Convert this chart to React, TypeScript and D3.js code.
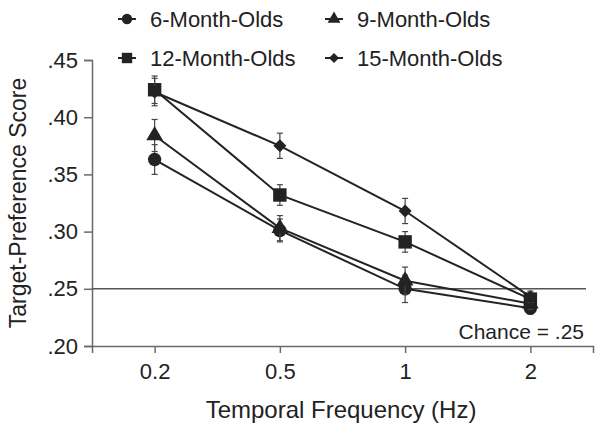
import React, { useEffect, useRef } from 'react';
import * as d3 from 'd3';

const frequencies = ['0.2', '0.5', '1', '2'];
const groups = ['6-Month-Olds', '9-Month-Olds', '12-Month-Olds', '15-Month-Olds'];
const six = [0.363, 0.301, 0.25, 0.233];
const nine = [0.384, 0.303, 0.257, 0.237];
const twelve = [0.424, 0.332, 0.291, 0.241];
const fifteen = [0.422, 0.375, 0.318, 0.243];
const sixErr = [0.013, 0.01, 0.012, 0.005];
const nineErr = [0.014, 0.011, 0.012, 0.005];
const twelveErr = [0.012, 0.009, 0.009, 0.005];
const fifteenErr = [0.012, 0.011, 0.011, 0.005];
const yTicks = [0.2, 0.25, 0.3, 0.35, 0.4, 0.45];
const chance = 0.25;

const App = () => {
  const ref = useRef<SVGSVGElement>(null);
  const width = 602, height = 428;
  const marginLeft = 92, marginRight = 9, marginTop = 60, marginBottom = 82;
  const FONT = 'Liberation Sans, Arial, sans-serif';
  const LINE = '#232323';
  const AXIS = '#6a6a6a';

  useEffect(() => {
    const svg = d3.select(ref.current);
    svg.selectAll('*').remove();

    const x = d3.scalePoint<string>()
      .domain(frequencies)
      .range([marginLeft, width - marginRight])
      .padding(0.5);
    const y = d3.scaleLinear()
      .domain([0.2, 0.45])
      .range([height - marginBottom, marginTop]);

    // rot = rotate a square symbol into a diamond
    const series = [
      { name: groups[0], values: six, err: sixErr, sym: d3.symbolCircle, size: 140, rot: 0 },
      { name: groups[1], values: nine, err: nineErr, sym: d3.symbolTriangle, size: 120, rot: 0 },
      { name: groups[2], values: twelve, err: twelveErr, sym: d3.symbolSquare, size: 180, rot: 0 },
      { name: groups[3], values: fifteen, err: fifteenErr, sym: d3.symbolSquare, size: 85, rot: 45 },
    ];

    // y axis
    svg.append('g')
      .attr('transform', `translate(${marginLeft},0)`)
      .call(d3.axisLeft(y).tickValues(yTicks).tickSize(8).tickPadding(6)
        .tickFormat(d => d3.format('.2f')(+d).replace(/^0/, '')))
      .call(g => {
        g.select('.domain').attr('stroke', AXIS).attr('stroke-width', 1.5);
        g.selectAll('.tick line').attr('stroke', AXIS).attr('stroke-width', 1.5);
        g.selectAll('.tick text').attr('font-size', 22).attr('font-family', FONT).attr('fill', '#222');
      });

    // x axis
    svg.append('g')
      .attr('transform', `translate(0,${height - marginBottom})`)
      .call(d3.axisBottom(x).tickSize(7).tickPadding(10).tickSizeOuter(7))
      .call(g => {
        g.select('.domain').attr('stroke', AXIS).attr('stroke-width', 1.5);
        g.selectAll('.tick line').attr('stroke', AXIS).attr('stroke-width', 1.5);
        g.selectAll('.tick text').attr('font-size', 22).attr('font-family', FONT).attr('fill', '#222');
      });

    // chance line
    svg.append('line')
      .attr('x1', marginLeft).attr('x2', 586)
      .attr('y1', y(chance)).attr('y2', y(chance))
      .attr('stroke', '#555').attr('stroke-width', 1.5);

    svg.append('text')
      .attr('x', 584).attr('y', y(0.2) - 7)
      .attr('text-anchor', 'end')
      .attr('font-size', 21).attr('font-family', FONT).attr('fill', '#222')
      .text('Chance = .25');

    const line = d3.line<number>()
      .x((_, i) => x(frequencies[i])!)
      .y(d => y(d));

    series.forEach(s => {
      svg.append('path')
        .attr('d', line(s.values))
        .attr('fill', 'none')
        .attr('stroke', LINE)
        .attr('stroke-width', 2);

      s.values.forEach((v, i) => {
        const cx = x(frequencies[i])!;
        const g = svg.append('g').attr('stroke', '#444').attr('stroke-width', 1.2);
        g.append('line').attr('x1', cx).attr('x2', cx).attr('y1', y(v - s.err[i])).attr('y2', y(v + s.err[i]));
        g.append('line').attr('x1', cx - 3).attr('x2', cx + 3).attr('y1', y(v - s.err[i])).attr('y2', y(v - s.err[i]));
        g.append('line').attr('x1', cx - 3).attr('x2', cx + 3).attr('y1', y(v + s.err[i])).attr('y2', y(v + s.err[i]));
        svg.append('path')
          .attr('d', d3.symbol().type(s.sym).size(s.size)())
          .attr('transform', `translate(${cx},${y(v)}) rotate(${s.rot})`)
          .attr('fill', LINE);
      });
    });

    // legend
    const legendPos = [[127, 19], [334, 19], [127, 58], [334, 58]];
    series.forEach((s, i) => {
      const [lx, ly] = legendPos[i];
      svg.append('line')
        .attr('x1', lx - 9).attr('x2', lx + 9).attr('y1', ly).attr('y2', ly)
        .attr('stroke', LINE).attr('stroke-width', 2);
      svg.append('path')
        .attr('d', d3.symbol().type(s.sym).size(s.size * 0.6)())
        .attr('transform', `translate(${lx},${ly}) rotate(${s.rot})`)
        .attr('fill', LINE);
      svg.append('text')
        .attr('x', lx + 23).attr('y', ly + 8)
        .attr('font-size', 22).attr('font-family', FONT).attr('fill', '#222')
        .text(s.name);
    });

    // axis titles
    svg.append('text')
      .attr('transform', `translate(26,${(marginTop + height - marginBottom) / 2}) rotate(-90)`)
      .attr('text-anchor', 'middle')
      .attr('font-size', 23).attr('font-family', FONT).attr('fill', '#222')
      .text('Target-Preference Score');

    svg.append('text')
      .attr('x', 341)
      .attr('y', 418)
      .attr('text-anchor', 'middle')
      .attr('font-size', 24).attr('font-family', FONT).attr('fill', '#222')
      .text('Temporal Frequency (Hz)');
  }, []);

  return (
    <svg ref={ref} width={width} height={height}
      style={{ position: 'absolute', left: 0, top: 0, background: '#fff' }} />
  );
};

export default App;
